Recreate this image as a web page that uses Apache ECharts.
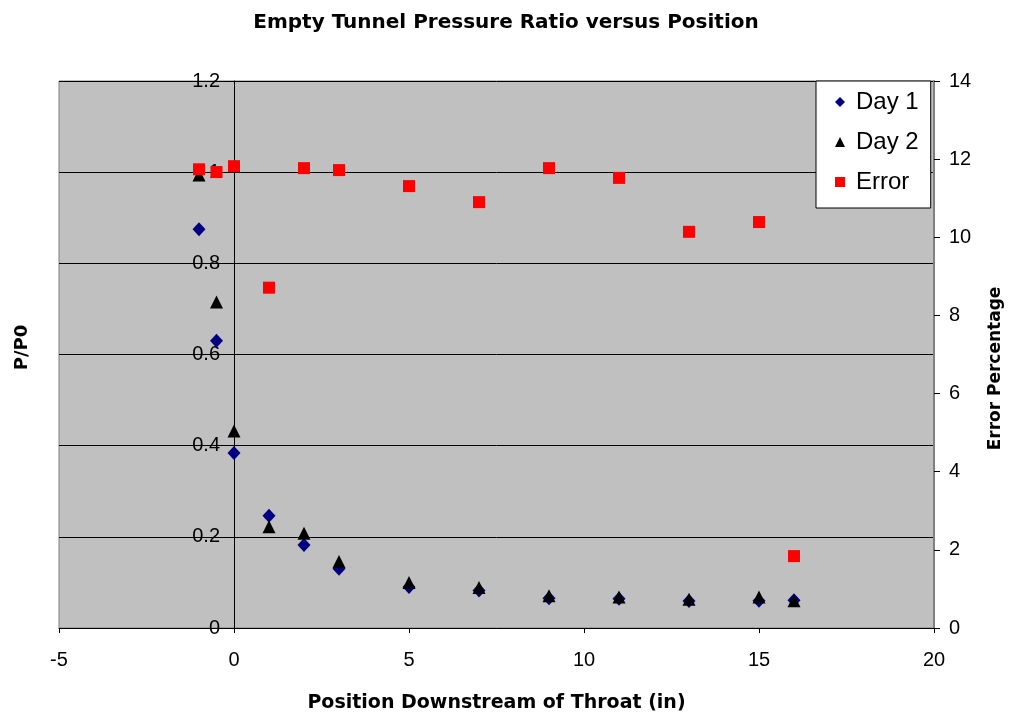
<!DOCTYPE html>
<html>
<head>
<meta charset="utf-8">
<title>Empty Tunnel Pressure Ratio versus Position</title>
<script src="https://cdn.jsdelivr.net/npm/echarts@6/dist/echarts.min.js"></script>
<style>
  html, body { margin: 0; padding: 0; background: #ffffff; }
  #chart { width: 1012px; height: 715px; }
</style>
</head>
<body>
<div id="chart"></div>
<script>
// Measurement stations downstream of the throat (inches)
const positions = [-1, -0.5, 0, 1, 2, 3, 5, 7, 9, 11, 13, 15, 16];
// Static pressure ratio P/P0, two test days
const day1 = [0.875, 0.630, 0.384, 0.246, 0.182, 0.130, 0.090, 0.082, 0.065, 0.064, 0.059, 0.060, 0.061];
const day2 = [0.994, 0.715, 0.432, 0.222, 0.208, 0.146, 0.100, 0.089, 0.071, 0.068, 0.063, 0.068, 0.060];
// Percentage difference between the two days
const errorPct = [11.74, 11.67, 11.82, 8.71, 11.77, 11.72, 11.31, 10.90, 11.77, 11.52, 10.14, 10.39, 1.84];

const xTicks = { min: -5, max: 20, interval: 5 };
const leftTicks = { min: 0, max: 1.2, interval: 0.2 };
const rightTicks = { min: 0, max: 14, interval: 2 };

const pairs = (xs, ys) => xs.map((x, i) => [x, ys[i]]);

const FONT = '"Liberation Sans", Arial, sans-serif';
const TITLE_FONT = '"DejaVu Sans", "Liberation Sans", sans-serif';
const GRID_LEFT = 59;

const chart = echarts.init(document.getElementById('chart'), null, { renderer: 'canvas' });

chart.setOption({
  animation: false,
  backgroundColor: '#ffffff',
  textStyle: { fontFamily: FONT, color: '#000' },
  title: {
    text: 'Empty Tunnel Pressure Ratio versus Position',
    left: 'center',
    top: 8,
    textStyle: { fontFamily: TITLE_FONT, fontSize: 20, fontWeight: 'bold', color: '#000' }
  },
  grid: {
    left: GRID_LEFT, right: 78, top: 81, bottom: 87,
    containLabel: false,
    outerBoundsMode: 'none',
    show: true,
    backgroundColor: '#c0c0c0',
    borderColor: '#808080',
    borderWidth: 1
  },
  legend: {
    orient: 'vertical',
    left: 816,
    top: 81,
    backgroundColor: '#ffffff',
    borderColor: '#000000',
    borderWidth: 1,
    borderRadius: 0,
    padding: [9, 12, 14, 19],
    itemGap: 16,
    itemWidth: 10,
    itemHeight: 10,
    textStyle: { fontFamily: FONT, fontSize: 24, color: '#000', padding: [0, 0, 0, 6] },
    data: [
      { name: 'Day 1', icon: 'diamond' },
      { name: 'Day 2', icon: 'triangle' },
      { name: 'Error', icon: 'rect' }
    ]
  },
  xAxis: {
    type: 'value',
    min: xTicks.min, max: xTicks.max, interval: xTicks.interval,
    name: 'Position Downstream of Throat (in)',
    nameLocation: 'middle',
    nameGap: 66,
    nameTextStyle: { fontFamily: TITLE_FONT, fontSize: 19, fontWeight: 'bold', color: '#000' },
    axisLine: { show: true, lineStyle: { color: '#000', width: 1 } },
    axisTick: { show: true, inside: false, length: 5, lineStyle: { color: '#000' } },
    axisLabel: { fontFamily: FONT, fontSize: 20, color: '#000', margin: 22 },
    splitLine: { show: false }
  },
  yAxis: [
    {
      type: 'value',
      min: leftTicks.min, max: leftTicks.max, interval: leftTicks.interval,
      name: 'P/P0',
      nameLocation: 'middle',
      nameRotate: 90,
      nameGap: 203,
      nameTextStyle: { fontFamily: TITLE_FONT, fontSize: 18, fontWeight: 'bold', color: '#000', padding: [0, 0, 0, 14] },
      axisLine: { show: true, onZero: false, lineStyle: { color: '#000', width: 1 } },
      axisTick: { show: true, inside: false, length: 5, lineStyle: { color: '#000' } },
      axisLabel: { fontFamily: FONT, fontSize: 20, color: '#000', margin: 14 },
      splitLine: { show: true, lineStyle: { color: '#000', width: 1 } }
    },
    {
      type: 'value',
      position: 'right',
      min: rightTicks.min, max: rightTicks.max, interval: rightTicks.interval,
      name: 'Error Percentage',
      nameLocation: 'middle',
      nameRotate: 90,
      nameGap: 53,
      nameTextStyle: { fontFamily: TITLE_FONT, fontSize: 17, fontWeight: 'bold', color: '#000', padding: [0, 28, 0, 0] },
      axisLine: { show: true, onZero: false, lineStyle: { color: '#808080', width: 2 } },
      axisTick: { show: true, inside: false, length: 6, lineStyle: { color: '#000' } },
      axisLabel: { fontFamily: FONT, fontSize: 20, color: '#000', margin: 15 },
      splitLine: { show: false }
    }
  ],
  series: [
    {
      name: 'Day 1',
      type: 'scatter',
      symbol: 'diamond',
      symbolSize: [13, 14],
      itemStyle: { color: '#000080', opacity: 1 },
      data: pairs(positions, day1),
      z: 2
    },
    {
      name: 'Day 2',
      type: 'scatter',
      symbol: 'triangle',
      symbolSize: [13, 13],
      itemStyle: { color: '#000000', opacity: 1 },
      data: pairs(positions, day2),
      z: 3
    },
    {
      name: 'Error',
      type: 'scatter',
      yAxisIndex: 1,
      symbol: 'rect',
      symbolSize: 12,
      itemStyle: { color: '#ff0000', opacity: 1 },
      data: pairs(positions, errorPct),
      z: 4
    }
  ]
});

// The P/P0 axis crosses the horizontal axis at x = 0: shift it there.
const zeroPx = chart.convertToPixel({ xAxisIndex: 0 }, 0);
chart.setOption({
  yAxis: [{ offset: -(zeroPx - GRID_LEFT) }, {}]
});
</script>
</body>
</html>
